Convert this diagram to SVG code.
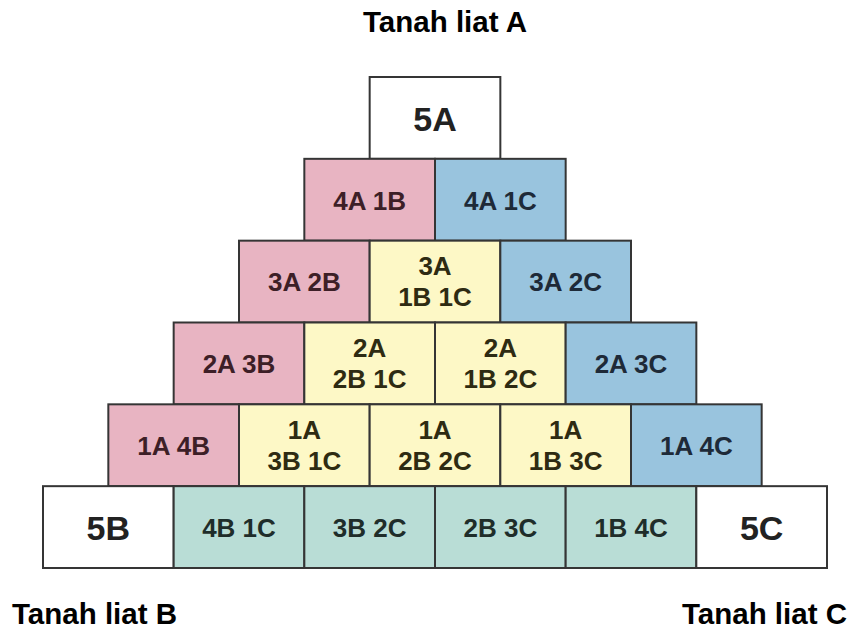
<svg xmlns="http://www.w3.org/2000/svg" width="850" height="630" viewBox="0 0 850 630">
<style>
  .box { stroke: #353535; stroke-width: 2; }
  .w { fill: #ffffff; }
  .p { fill: #e8b4c2; }
  .b { fill: #99c4de; }
  .y { fill: #fdf8c6; }
  .t { fill: #b9ddd6; }
  text { font-family: "Liberation Sans", Arial, sans-serif; font-weight: bold; text-anchor: middle; }
  .lbl { font-size: 26px; }
  .big { font-size: 34px; fill: #222; }
  .tp { fill: #3d1f27; }
  .tb { fill: #1e2a38; }
  .ty { fill: #2e2b12; }
  .tt { fill: #1f2d2a; }
  .title { font-size: 29.5px; fill: #000; }
</style>
<rect width="850" height="630" fill="#ffffff"/>
<text class="title" x="445" y="32">Tanah liat A</text>
<text class="title" x="12" y="624" style="text-anchor:start">Tanah liat B</text>
<text class="title" x="847" y="624" style="text-anchor:end">Tanah liat C</text>

<g id="n5A"><rect class="box w" x="369.67" y="77" width="130.67" height="81.83"/><text class="big" x="435" y="131">5A</text></g>

<g id="n4A1B"><rect class="box p" x="304.33" y="158.83" width="130.67" height="81.83"/><text class="lbl tp" x="369.67" y="209.5">4A 1B</text></g>
<g id="n4A1C"><rect class="box b" x="435" y="158.83" width="130.67" height="81.83"/><text class="lbl tb" x="500.33" y="209.5">4A 1C</text></g>

<g id="n3A2B"><rect class="box p" x="239" y="240.67" width="130.67" height="81.83"/><text class="lbl tp" x="304.33" y="291">3A 2B</text></g>
<g id="n3A1B1C"><rect class="box y" x="369.67" y="240.67" width="130.67" height="81.83"/><text class="lbl ty" x="435" y="275">3A</text><text class="lbl ty" x="435" y="306">1B 1C</text></g>
<g id="n3A2C"><rect class="box b" x="500.33" y="240.67" width="130.67" height="81.83"/><text class="lbl tb" x="565.67" y="291">3A 2C</text></g>

<g id="n2A3B"><rect class="box p" x="173.67" y="322.5" width="130.67" height="81.83"/><text class="lbl tp" x="239" y="373">2A 3B</text></g>
<g id="n2A2B1C"><rect class="box y" x="304.33" y="322.5" width="130.67" height="81.83"/><text class="lbl ty" x="369.67" y="357">2A</text><text class="lbl ty" x="369.67" y="388">2B 1C</text></g>
<g id="n2A1B2C"><rect class="box y" x="435" y="322.5" width="130.67" height="81.83"/><text class="lbl ty" x="500.33" y="357">2A</text><text class="lbl ty" x="500.33" y="388">1B 2C</text></g>
<g id="n2A3C"><rect class="box b" x="565.67" y="322.5" width="130.67" height="81.83"/><text class="lbl tb" x="631" y="373">2A 3C</text></g>

<g id="n1A4B"><rect class="box p" x="108.33" y="404.33" width="130.67" height="81.83"/><text class="lbl tp" x="173.67" y="455">1A 4B</text></g>
<g id="n1A3B1C"><rect class="box y" x="239" y="404.33" width="130.67" height="81.83"/><text class="lbl ty" x="304.33" y="439">1A</text><text class="lbl ty" x="304.33" y="470">3B 1C</text></g>
<g id="n1A2B2C"><rect class="box y" x="369.67" y="404.33" width="130.67" height="81.83"/><text class="lbl ty" x="435" y="439">1A</text><text class="lbl ty" x="435" y="470">2B 2C</text></g>
<g id="n1A1B3C"><rect class="box y" x="500.33" y="404.33" width="130.67" height="81.83"/><text class="lbl ty" x="565.67" y="439">1A</text><text class="lbl ty" x="565.67" y="470">1B 3C</text></g>
<g id="n1A4C"><rect class="box b" x="631" y="404.33" width="130.67" height="81.83"/><text class="lbl tb" x="696.33" y="455">1A 4C</text></g>

<g id="n5B"><rect class="box w" x="43" y="486.17" width="130.67" height="81.83"/><text class="big" x="108.33" y="540">5B</text></g>
<g id="n4B1C"><rect class="box t" x="173.67" y="486.17" width="130.67" height="81.83"/><text class="lbl tt" x="239" y="537">4B 1C</text></g>
<g id="n3B2C"><rect class="box t" x="304.33" y="486.17" width="130.67" height="81.83"/><text class="lbl tt" x="369.67" y="537">3B 2C</text></g>
<g id="n2B3C"><rect class="box t" x="435" y="486.17" width="130.67" height="81.83"/><text class="lbl tt" x="500.33" y="537">2B 3C</text></g>
<g id="n1B4C"><rect class="box t" x="565.67" y="486.17" width="130.67" height="81.83"/><text class="lbl tt" x="631" y="537">1B 4C</text></g>
<g id="n5C"><rect class="box w" x="696.33" y="486.17" width="130.67" height="81.83"/><text class="big" x="761.67" y="540">5C</text></g>

<g id="connectors"></g>
</svg>
